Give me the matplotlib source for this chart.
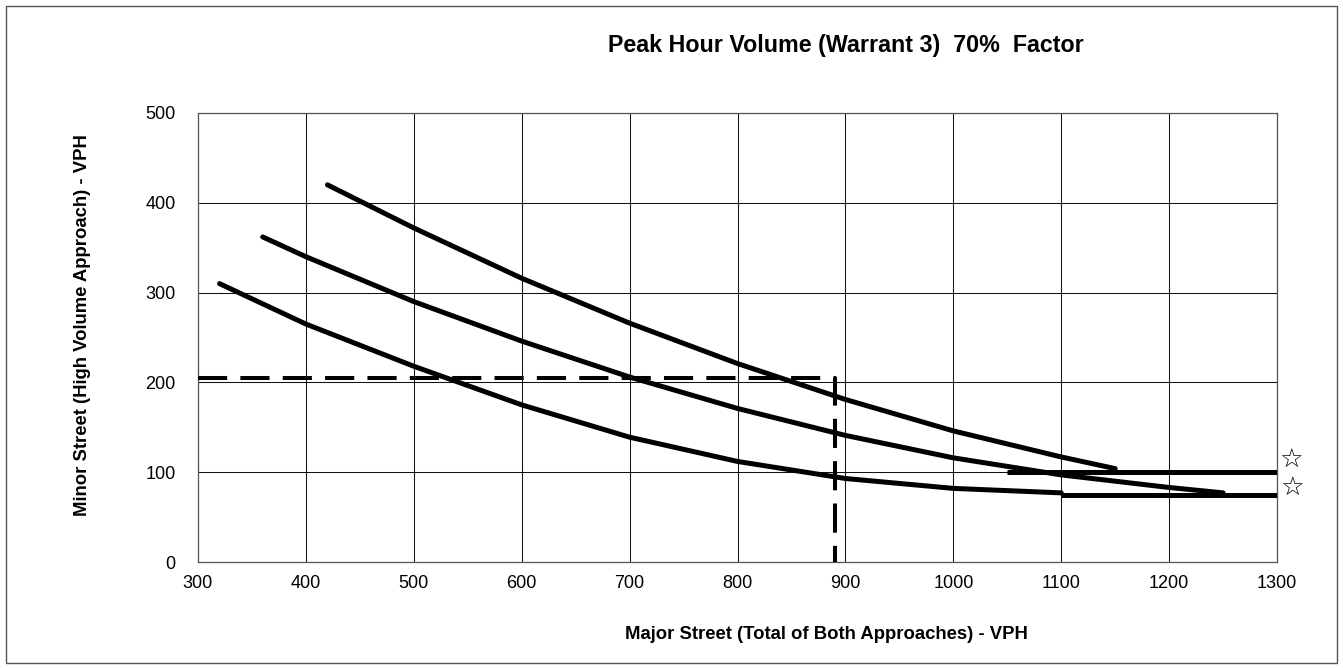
import matplotlib
matplotlib.use('Agg')
import matplotlib.pyplot as plt
from matplotlib.patches import Rectangle

plt.rcParams['font.family'] = ['Liberation Sans', 'DejaVu Sans']
plt.rcParams['lines.scale_dashes'] = False

# Curves (major street VPH vs minor street VPH)
top_x = [420, 500, 600, 700, 800, 900, 1000, 1100, 1150]
top_y = [420, 372, 316, 266, 221, 181, 146, 117, 104]

mid_x = [360, 400, 500, 600, 700, 800, 900, 1000, 1100, 1200, 1250]
mid_y = [362, 340, 290, 246, 206, 171, 141, 116, 97, 83, 77]

low_x = [320, 400, 500, 600, 700, 800, 900, 1000, 1100]
low_y = [310, 265, 218, 175, 139, 112, 93, 82, 77]

# lower thresholds
thr_hi_x = [1050, 1300]
thr_hi_y = [100, 100]
thr_lo_x = [1100, 1300]
thr_lo_y = [75, 75]

# study point (dashed lines)
study_x = [300, 890, 890]
study_y = [205, 205, 0]

x_ticks = list(range(300, 1301, 100))
y_ticks = list(range(0, 501, 100))

fig = plt.figure(figsize=(13.43, 6.69), dpi=100)
ax = fig.add_axes([0.1474, 0.1599, 0.8035, 0.6712])

ax.set_xlim(300, 1300)
ax.set_ylim(0, 500)
ax.set_xticks(x_ticks)
ax.set_yticks(y_ticks)
ax.grid(True, color='#111111', linewidth=0.75)
ax.set_axisbelow(True)
ax.tick_params(length=0, labelsize=13, pad=9)
ax.tick_params(axis='y', pad=16)
for s in ax.spines.values():
    s.set_color('#555555')
    s.set_linewidth(0.9)

lw = 3.6
for xs, ys in [(top_x, top_y), (mid_x, mid_y), (low_x, low_y)]:
    ax.plot(xs, ys, color='black', linewidth=lw, solid_capstyle='round',
            solid_joinstyle='round', zorder=3)
ax.plot(thr_hi_x, thr_hi_y, color='black', linewidth=lw, solid_capstyle='butt', zorder=3)
ax.plot(thr_lo_x, thr_lo_y, color='black', linewidth=lw, solid_capstyle='butt', zorder=3)

ax.plot(study_x, study_y, color='black', linewidth=2.9, dashes=(21, 9.5),
        dash_capstyle='butt', zorder=4)

# stars next to the threshold lines
star_tr = ax.get_yaxis_transform()
ax.text(1.013, 113, '\u2606', transform=star_tr, ha='center', va='center',
        fontsize=19, family=['DejaVu Sans'], clip_on=False)
ax.text(1.014, 81, '\u2606', transform=star_tr, ha='center', va='center',
        fontsize=19, family=['DejaVu Sans'], clip_on=False)

title = fig.text(0.630, 0.9327, 'Peak Hour Volume (Warrant 3)  70%  Factor',
                 ha='center', va='center', fontsize=13, fontweight='bold')
xlab = fig.text(0.615, 0.0523, 'Major Street (Total of Both Approaches) - VPH',
                ha='center', va='center', fontsize=11, fontweight='bold')
ylab = fig.text(0.0618, 0.514, 'Minor Street (High Volume Approach) - VPH',
                ha='center', va='center', rotation=90, fontsize=11, fontweight='bold')

# scale the title texts to the widths measured on the reference
renderer = fig.canvas.get_renderer()
for t, target in [(title, 475), (xlab, 403)]:
    w = t.get_window_extent(renderer).width
    t.set_fontsize(t.get_fontsize() * target / w)
ylab.set_fontsize(xlab.get_fontsize())

# outer border around the whole chart
fig.patches.append(Rectangle((0.0045, 0.009), 0.991, 0.982, transform=fig.transFigure,
                             fill=False, edgecolor='#555555', linewidth=1.0))

fig.savefig('out.png', dpi=100)
